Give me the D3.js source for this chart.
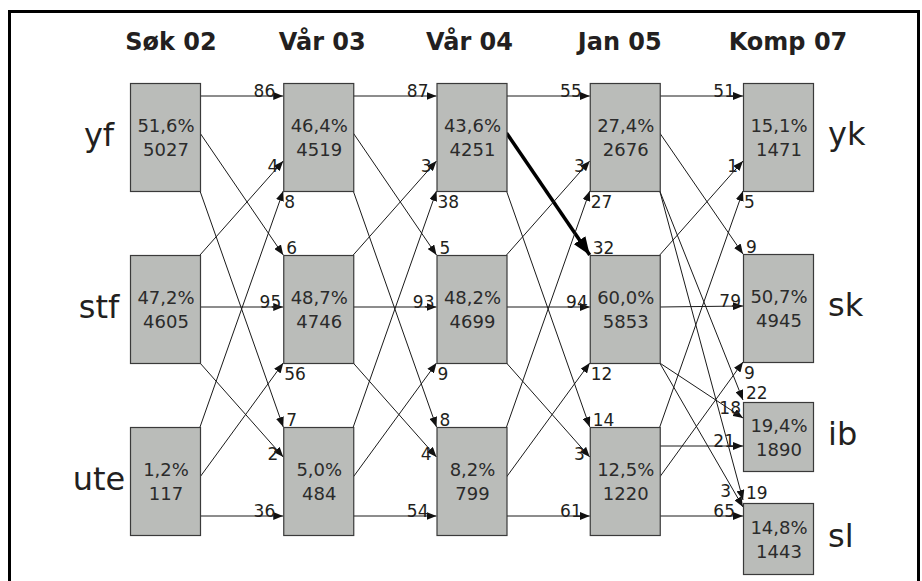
<!DOCTYPE html>
<html>
<head>
<meta charset="utf-8">
<script src="https://cdn.jsdelivr.net/npm/d3@7"></script>
<style>
  html, body { margin: 0; padding: 0; background: #fff; }
  svg { display: block; }
  text { font-family: "DejaVu Sans", sans-serif; }
</style>
</head>
<body>
<svg id="chart" width="922" height="581"></svg>
<script>
// ---------------- data ----------------
const columns = ["Søk 02", "Vår 03", "Vår 04", "Jan 05", "Komp 07"];
const leftRows = ["yf", "stf", "ute"];
const rightRows = ["yk", "sk", "ib", "sl"];

const percents = [
  [51.6, 47.2, 1.2],
  [46.4, 48.7, 5.0],
  [43.6, 48.2, 8.2],
  [27.4, 60.0, 12.5],
  [15.1, 50.7, 19.4, 14.8]
];
const counts = [
  [5027, 4605, 117],
  [4519, 4746, 484],
  [4251, 4699, 799],
  [2676, 5853, 1220],
  [1471, 4945, 1890, 1443]
];
// transition percentages: [step][fromRow][toRow]
const transitions = [
  [[86, 6, 7], [4, 95, 2], [8, 56, 36]],
  [[87, 5, 8], [3, 93, 4], [38, 9, 54]],
  [[55, 32, 14], [3, 94, 3], [27, 12, 61]],
  [[51, 9, 22, 19], [1, 79, 18, 3], [5, 9, 21, 65]]
];
const highlight = { step: 2, from: 0, to: 1 };

// ---------------- layout ----------------
const W = 922, H = 581;
const boxW = 70;
const svg = d3.select("#chart");
svg.append("rect").attr("width", W).attr("height", H).attr("fill", "#fff");

const x = d3.scalePoint().domain(columns).range([130, 743]);
const yLeft = d3.scalePoint().domain(leftRows).range([83, 427]);
const yRight = d3.scaleOrdinal().domain(rightRows).range([83, 254, 402, 503]);
const hRight = d3.scaleOrdinal().domain(rightRows).range([108, 108, 69, 71]);
const boxH = 108;
const headerShift = [6, 4, -2, -5, 10];

// anchor offsets (relative to box top) for arrows
const srcOff = [[13, 50, 108], [0, 52, 108], [0, 50, 89]];
const srcOffLast = [[13, 50, 108, 108], [0, 52, 108, 108], [0, 50, 19, 89]];
const tgtOff = [[13, 0, 0], [78, 52, 30], [108, 108, 89]];
const tgtOffLast = [[13, 0, -2, -3], [78, 52, 16, 4], [108, 108, 44, 13]];
const labType = [["h", "tr", "tr"], ["ul", "hm", "dl"], ["br", "br", "h"]];
const labTypeLast = [["h", "tr", "tr", "tr"], ["ul", "hm", "al1", "al2"], ["br", "br", "h", "h"]];
const labPos = {
  h:   { dx: -8, dy: 1, anchor: "end" },
  hm:  { dx: -2, dy: 1, anchor: "end" },
  tr:  { dx: 3, dy: -1, anchor: "start" },
  br:  { dx: 1, dy: 17, anchor: "start" },
  ul:  { dx: -5, dy: 11, anchor: "end" },
  dl:  { dx: -5, dy: 3, anchor: "end" },
  al1: { dx: -2, dy: -4, anchor: "end" },
  al2: { dx: -12, dy: -10, anchor: "end" }
};

// frame
svg.append("rect")
  .attr("x", 9.5).attr("y", 11.5).attr("width", 909).attr("height", 620)
  .attr("fill", "none").attr("stroke", "#000").attr("stroke-width", 3);

// markers
const defs = svg.append("defs");
defs.append("marker").attr("id", "arr")
  .attr("markerUnits", "userSpaceOnUse")
  .attr("viewBox", "0 0 10 8").attr("refX", 10).attr("refY", 4)
  .attr("markerWidth", 10).attr("markerHeight", 8).attr("orient", "auto")
  .append("path").attr("d", "M0,0 L10,4 L0,8 Z").attr("fill", "#111");
defs.append("marker").attr("id", "arrBig")
  .attr("markerUnits", "userSpaceOnUse")
  .attr("viewBox", "0 0 18 14").attr("refX", 18).attr("refY", 7)
  .attr("markerWidth", 18).attr("markerHeight", 14).attr("orient", "auto")
  .append("path").attr("d", "M0,0 L18,7 L0,14 Z").attr("fill", "#000");

// headers
svg.selectAll("text.header").data(columns).join("text")
  .attr("class", "header")
  .attr("x", (d, i) => x(d) + boxW / 2 + headerShift[i])
  .attr("y", 50)
  .attr("text-anchor", "middle")
  .attr("font-size", 24).attr("font-weight", "bold").attr("fill", "#231f20")
  .text(d => d);

// box geometry helper
function boxTop(ci, ri) {
  return ci === columns.length - 1 ? yRight(rightRows[ri]) : yLeft(leftRows[ri]);
}
function boxHeight(ci, ri) {
  return ci === columns.length - 1 ? hRight(rightRows[ri]) : boxH;
}

// arrows
const flows = [];
transitions.forEach((step, si) => {
  const last = si === transitions.length - 1;
  step.forEach((row, fi) => {
    row.forEach((v, ti) => {
      const sO = (last ? srcOffLast : srcOff)[fi][ti];
      const tO = (last ? tgtOffLast : tgtOff)[fi][ti];
      const lt = (last ? labTypeLast : labType)[fi][ti];
      flows.push({
        value: v,
        x1: x(columns[si]) + boxW, y1: boxTop(si, fi) + sO,
        x2: x(columns[si + 1]), y2: boxTop(si + 1, ti) + tO,
        lab: labPos[lt],
        hl: si === highlight.step && fi === highlight.from && ti === highlight.to
      });
    });
  });
});

svg.append("g").selectAll("line").data(flows).join("line")
  .attr("x1", d => d.x1).attr("y1", d => d.y1)
  .attr("x2", d => d.x2).attr("y2", d => d.y2)
  .attr("stroke", d => d.hl ? "#000" : "#1a1a1a")
  .attr("stroke-width", d => d.hl ? 3.5 : 1)
  .attr("marker-end", d => d.hl ? "url(#arrBig)" : "url(#arr)");

// boxes
const boxes = [];
columns.forEach((c, ci) => {
  percents[ci].forEach((p, ri) => {
    boxes.push({ ci, ri, p, n: counts[ci][ri] });
  });
});
const fmt = d3.format(".1f");
const bg = svg.append("g").selectAll("g").data(boxes).join("g");
bg.append("rect")
  .attr("x", d => x(columns[d.ci]) + 0.5)
  .attr("y", d => boxTop(d.ci, d.ri) + 0.5)
  .attr("width", boxW)
  .attr("height", d => boxHeight(d.ci, d.ri))
  .attr("fill", "#babcb9").attr("stroke", "#3a3a3a").attr("stroke-width", 1.2);
bg.append("text")
  .attr("x", d => x(columns[d.ci]) + boxW / 2 + 1)
  .attr("y", d => boxTop(d.ci, d.ri) + boxHeight(d.ci, d.ri) / 2 - 5)
  .attr("text-anchor", "middle").attr("font-size", 18).attr("fill", "#2b2b2b")
  .text(d => fmt(d.p).replace(".", ",") + "%");
bg.append("text")
  .attr("x", d => x(columns[d.ci]) + boxW / 2 + 1)
  .attr("y", d => boxTop(d.ci, d.ri) + boxHeight(d.ci, d.ri) / 2 + 19)
  .attr("text-anchor", "middle").attr("font-size", 18).attr("fill", "#2b2b2b")
  .text(d => d.n);

// flow labels
svg.append("g").selectAll("text").data(flows).join("text")
  .attr("x", d => d.x2 + d.lab.dx)
  .attr("y", d => d.y2 + d.lab.dy)
  .attr("text-anchor", d => d.lab.anchor)
  .attr("font-size", 17).attr("fill", "#231f20")
  .text(d => d.value);

// row labels
svg.selectAll("text.rowL").data(leftRows).join("text")
  .attr("class", "rowL")
  .attr("x", 99)
  .attr("y", d => yLeft(d) + boxH / 2 + 9)
  .attr("text-anchor", "middle").attr("font-size", 32).attr("fill", "#231f20")
  .text(d => d);
svg.selectAll("text.rowR").data(rightRows).join("text")
  .attr("class", "rowR")
  .attr("x", 828)
  .attr("y", d => yRight(d) + hRight(d) / 2 + 8)
  .attr("text-anchor", "start").attr("font-size", 32).attr("fill", "#231f20")
  .text(d => d);
</script>
</body>
</html>
